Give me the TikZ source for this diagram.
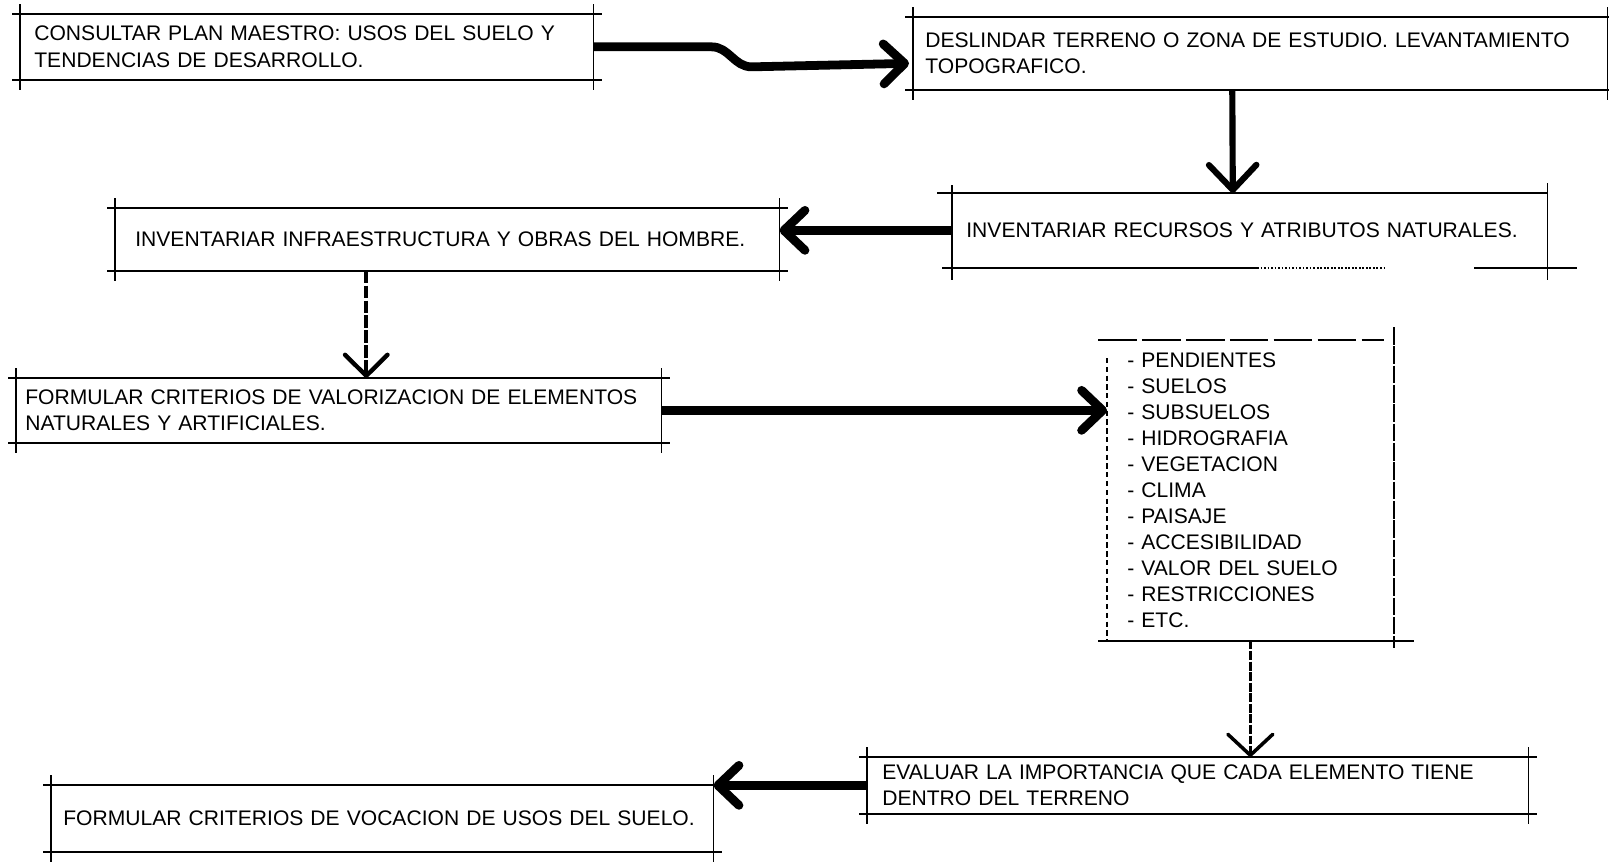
\documentclass[tikz,border=0pt]{standalone}
\usepackage{fontspec}
\setmainfont{Liberation Sans}
\usetikzlibrary{calc,arrows.meta}

\begin{document}
\begin{tikzpicture}[x=0.02cm, y=-0.02cm,
	activity/.style={rectangle, anchor=north west, inner ysep=0pt, align=left, font=\fontsize{12}{15}\selectfont},
	listbox/.style={rectangle, anchor=north west, inner ysep=0pt, align=left, font=\fontsize{12}{14.8}\selectfont},
	frame/.style={line width=1pt},
	paths/.style={-{Straight Barb[length=0.42cm, width=0.8cm, round]}, line width=5pt},
	dpaths/.style={-{Straight Barb[length=0.5cm, width=0.95cm, round]}, line width=3.5pt},
	dotpaths/.style={-{Straight Barb[length=0.42cm, width=0.85cm, round]}, line width=2.5pt, dash pattern=on 7pt off 1.5pt},
	thinpaths/.style={-{Straight Barb[length=0.42cm, width=0.9cm, round]}, line width=2pt, dash pattern=on 5pt off 1pt}
	] % styles
\useasboundingbox (0,0) rectangle (1609,862);

% activities
\node [activity, inner xsep=0.28cm, text width=10.90cm, minimum height=1.30cm] at (20,14) (consultar) {CONSULTAR PLAN MAESTRO: USOS DEL SUELO Y\\TENDENCIAS DE DESARROLLO.};
\node [activity, inner xsep=0.24cm, text width=13.40cm, minimum height=1.44cm] at (913,17) (deslindar) {DESLINDAR TERRENO O ZONA DE ESTUDIO. LEVANTAMIENTO\\TOPOGRAFICO.};
\node [activity, inner xsep=0.28cm, text width=11.34cm, minimum height=1.48cm] at (952,193) (recursos) {INVENTARIAR RECURSOS Y ATRIBUTOS NATURALES.};
\node [activity, inner xsep=0.40cm, text width=12.48cm, minimum height=1.24cm] at (115,208) (infra) {INVENTARIAR INFRAESTRUCTURA Y OBRAS DEL HOMBRE.};
\node [activity, inner xsep=0.18cm, text width=12.54cm, minimum height=1.28cm] at (16,378) (valorizacion) {FORMULAR CRITERIOS DE VALORIZACION DE ELEMENTOS\\NATURALES Y ARTIFICIALES.};
\node [listbox, inner xsep=0.40cm, text width=4.92cm, minimum height=6.00cm] at (1107,340) (lista) {- PENDIENTES\\- SUELOS\\- SUBSUELOS\\- HIDROGRAFIA\\- VEGETACION\\- CLIMA\\- PAISAJE\\- ACCESIBILIDAD\\- VALOR DEL SUELO\\- RESTRICCIONES\\- ETC.};
\node [activity, inner xsep=0.30cm, text width=12.62cm, minimum height=1.12cm] at (867,757) (evaluar) {EVALUAR LA IMPORTANCIA QUE CADA ELEMENTO TIENE\\DENTRO DEL TERRENO};
\node [activity, inner xsep=0.24cm, text width=12.76cm, minimum height=1.32cm] at (51,785) (vocacion) {FORMULAR CRITERIOS DE VOCACION DE USOS DEL SUELO.};

% frames with crossing corners
\foreach \n in {consultar,deslindar,infra,valorizacion,evaluar,vocacion}{
	\draw[frame] ($(\n.north west)+(-8,0)$) -- ($(\n.north east)+(8,0)$);
	\draw[frame] ($(\n.south west)+(-8,0)$) -- ($(\n.south east)+(8,0)$);
	\draw[frame] ($(\n.north west)+(0,-10)$) -- ($(\n.south west)+(0,10)$);
	\draw[frame] ($(\n.north east)+(0,-10)$) -- ($(\n.south east)+(0,10)$);
}
\draw[frame] ($(recursos.north west)+(-15,0)$) -- (recursos.north east);
\draw[frame] ($(recursos.north west)+(0,-8)$) -- ($(recursos.south west)+(0,12)$);
\draw[frame] ($(recursos.north east)+(0,-10)$) -- ($(recursos.south east)+(0,12)$);
\draw[frame] ($(recursos.south west)+(-10,0)$) -- ($(recursos.south west)+(305,0)$);
\draw[frame, densely dotted] ($(recursos.south west)+(305,0)$) -- ($(recursos.south west)+(435,0)$);
\draw[frame] ($(recursos.south west)+(522,0)$) -- ($(recursos.south east)+(29,0)$);

\draw[frame, dash pattern=on 22pt off 3pt] ($(lista.north west)+(-9,0)$) -- ($(lista.north east)+(-10,0)$);
\draw[frame, densely dashed] ($(lista.north west)+(0,18)$) -- (lista.south west);
\draw[frame, dash pattern=on 10pt off 1pt] ($(lista.north east)+(0,-13)$) -- ($(lista.south east)+(0,7)$);
\draw[frame] ($(lista.south west)+(-9,0)$) -- ($(lista.south east)+(20,0)$);

% paths
\draw[paths] (consultar.east) -- ++(118,0) to[out=0,in=180] ++(40,20) -- ($(deslindar.west)+(-4,10)$);
\draw[dpaths] ($(deslindar.south)+(-28,0)$) -- ($(recursos.north)+(-17,0)$);
\draw[paths] (recursos.west) -- (recursos.west -| infra.east);
\coordinate (c4) at ($(infra.south)+(-81,0)$);
\draw[dotpaths] (c4) -- (c4 |- valorizacion.north);
\draw[paths] (valorizacion.east) -- (valorizacion.east -| lista.west);
\draw[thinpaths] (lista.south) -- (lista.south |- evaluar.north);
\draw[paths] (evaluar.west) -- (evaluar.west -| vocacion.east);

\end{tikzpicture}
\end{document}
